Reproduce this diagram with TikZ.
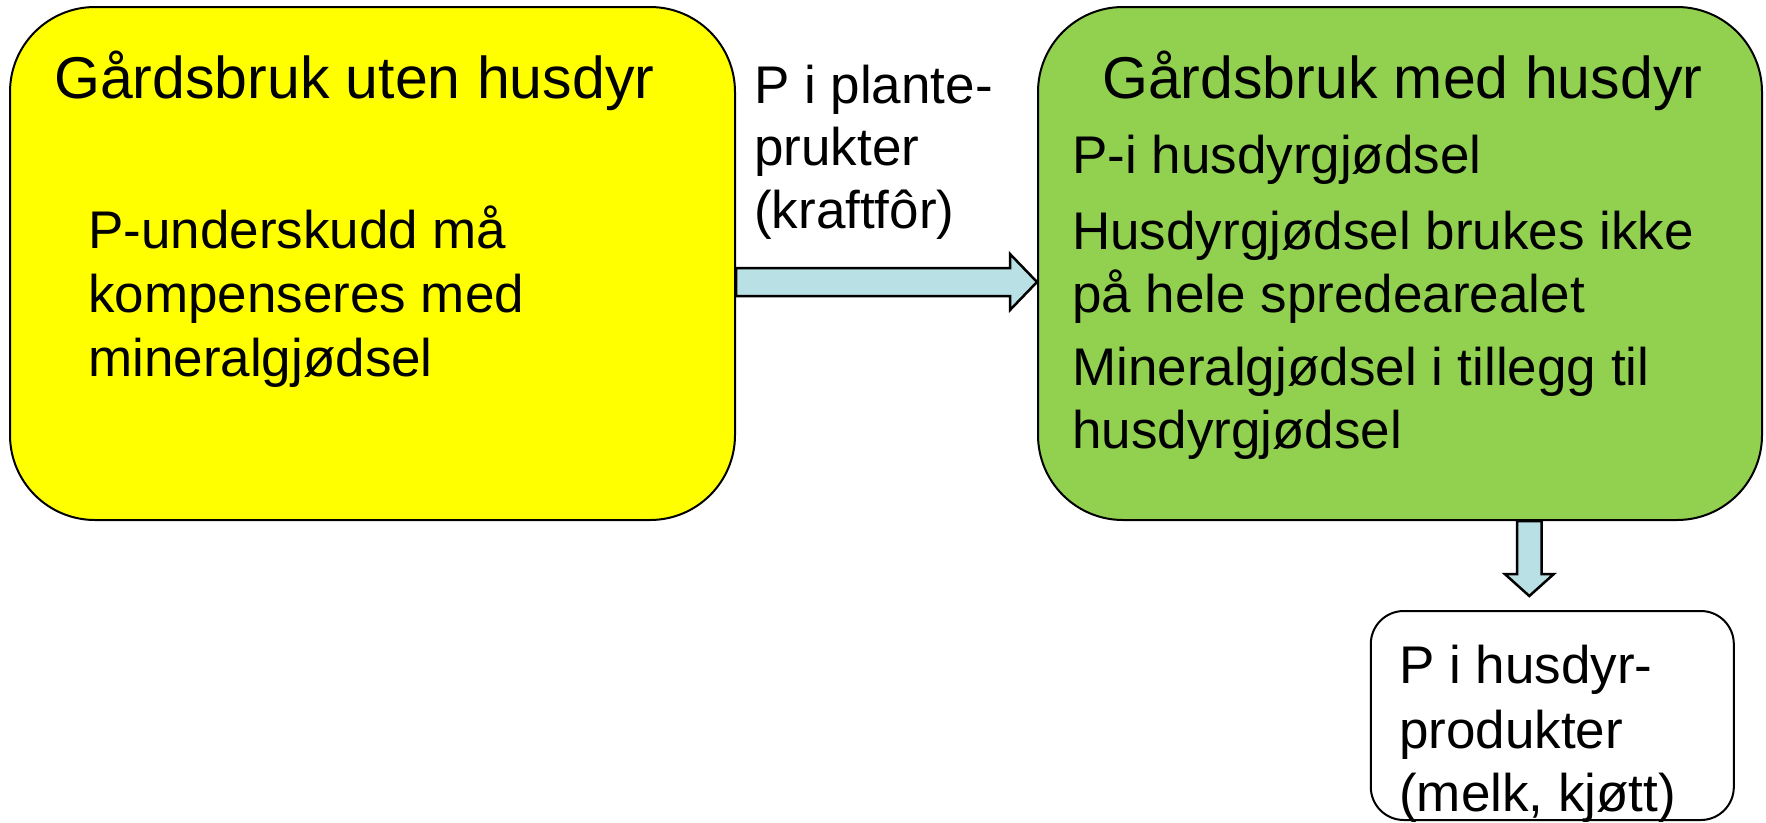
\documentclass[tikz,border=0pt]{standalone}
\usepackage{fontspec}
\setmainfont{Liberation Sans}
\usetikzlibrary{calc}
\definecolor{farmyellow}{HTML}{FFFF00}
\definecolor{farmgreen}{HTML}{92D050}
\definecolor{flowblue}{HTML}{B9E0E4}
\begin{document}
\begin{tikzpicture}[x=1pt,y=-1pt,
  farmbox/.style={draw=black, line width=2pt, rounded corners=85pt, inner sep=0pt},
  headtext/.style={anchor=base west, inner sep=0pt, font=\fontsize{59}{70}\selectfont},
  bodytext/.style={anchor=base west, inner sep=0pt, font=\fontsize{53}{63}\selectfont},
  blockarrow/.style={draw=black, line width=2.5pt, fill=flowblue, line join=miter}]
\useasboundingbox (0,0) rectangle (1766,822);

% the three farm/product boxes
\node[farmbox, fill=farmyellow, minimum width=725pt, minimum height=513pt] (nolive) at (372.5,263.5) {};
\node[farmbox, fill=farmgreen, minimum width=724pt, minimum height=513pt] (live) at (1400,263.5) {};
\node[farmbox, fill=white, rounded corners=33pt, minimum width=363pt, minimum height=209pt] (prod) at (1552.3,715.5) {};

% block arrow: plant products into the livestock farm
\coordinate (feedA) at ($(nolive.east)+(0,18.5)$);
\coordinate (feedB) at ($(live.west)+(0,18.5)$);
\draw[blockarrow] ($(feedA)+(0,-14)$) -- ($(feedB)+(-27,-14)$) -- ($(feedB)+(-27,-28)$)
  -- (feedB) -- ($(feedB)+(-27,28)$) -- ($(feedB)+(-27,14)$) -- ($(feedA)+(0,14)$) -- cycle;

% block arrow: livestock farm down to animal products
\coordinate (outA) at ($(live.south)+(129.3,0)$);
\coordinate (outB) at (prod.north -| outA);
\draw[blockarrow] ($(outA)+(-12.2,0)$) -- ($(outA)+(-12.2,53)$) -- ($(outA)+(-24.5,53)$)
  -- ($(outB)+(0,-14)$) -- ($(outA)+(24.5,53)$) -- ($(outA)+(12.2,53)$) -- ($(outA)+(12.2,0)$) -- cycle;

% texts
\node[headtext] (nolive-title) at (54,98) {Gårdsbruk uten husdyr};
\node[bodytext] (nolive-l1) at (88,248.3) {P-underskudd må};
\node[bodytext] (nolive-l2) at (88,312.5) {kompenseres med};
\node[bodytext] (nolive-l3) at (88,376.7) {mineralgjødsel};

\node[bodytext] (feed-l1) at (754,103.3) {P i plante-};
\node[bodytext] (feed-l2) at (754,165) {prukter};
\node[bodytext] (feed-l3) at (754,228) {(kraftfôr)};

\node[headtext] (live-title) at (1102,98) {Gårdsbruk med husdyr};
\node[bodytext] (live-l1) at (1072,173.3) {P-i husdyrgjødsel};
\node[bodytext] (live-l2) at (1072,249.3) {Husdyrgjødsel brukes ikke};
\node[bodytext] (live-l3) at (1072,312.7) {på hele spredearealet};
\node[bodytext] (live-l4) at (1072,385) {Mineralgjødsel i tillegg til};
\node[bodytext] (live-l5) at (1072,448.3) {husdyrgjødsel};

\node[bodytext] (prod-l1) at (1399,683.3) {P i husdyr-};
\node[bodytext] (prod-l2) at (1399,748) {produkter};
\node[bodytext] (prod-l3) at (1399,811.7) {(melk, kjøtt)};
\end{tikzpicture}
\end{document}
